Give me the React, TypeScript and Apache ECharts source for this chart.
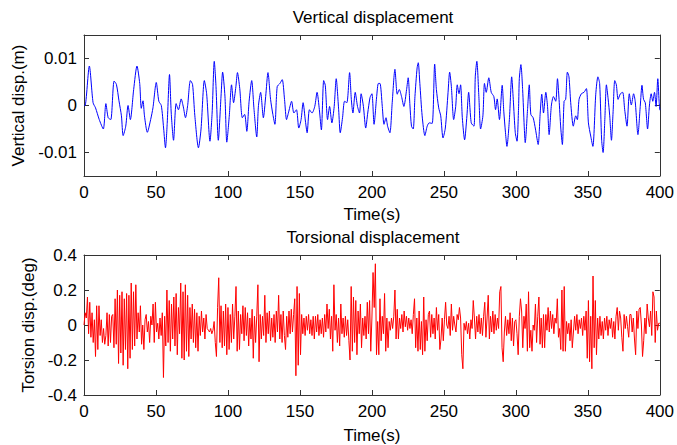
import { useEffect, useRef } from "react";
import * as echarts from "echarts";

// ---------- data ----------
const xTicks = [0, 50, 100, 150, 200, 250, 300, 350, 400];
const vertTicks = [-0.01, 0, 0.01];
const torsTicks = [-0.4, -0.2, 0, 0.2, 0.4];

const vertTime = [
  0, 0.7, 3.7, 6.3, 8, 10.6, 13.4, 15.2, 16.8, 18.6, 20.9, 22.5, 24.3, 26, 27.2, 29, 30.6, 32.2, 34.5, 36.8,
  38.7, 39.8, 41, 42, 44, 46.3, 47.9, 50.2, 52, 53.7, 55.3, 56.6, 57.8, 59.4, 60.6, 62.2, 64, 65.6, 67.5, 69,
  70.5, 72, 73.9, 75.4, 77, 79.5, 81.3, 83.6, 85.2, 87.5, 89, 90.5, 91.7, 93.3, 95.2, 96.3, 97.9, 99.2, 100.9, 102.5,
  103.9, 105.5, 106.6, 108.2, 110, 111.6, 113.1, 114.7, 116.5, 118.1, 120, 121.2, 122.7, 124.6, 126.2, 127.8, 129.6, 131.2, 132.6, 134.2,
  136.1, 137.7, 139.3, 140.7, 142.3, 144.2, 145.8, 147.6, 149.2, 150.8, 152.2, 153.8, 155, 156.6, 158.4, 160.3, 161.9, 163.5, 164.9, 166.5,
  167.6, 169.2, 170.6, 172.2, 173.8, 175.2, 176.9, 178, 179.6, 181, 182.6, 184.5, 185.7, 186.8, 188.4, 190, 191.4, 192.5, 194.1, 195.7,
  197.1, 198.7, 200, 201.5, 203.3, 204.5, 205.6, 207.2, 208.4, 209.8, 210.9, 212.5, 214.1, 216, 217.6, 219, 220.6, 222.2, 224.1, 225.2,
  226.4, 227.5, 228.7, 229.9, 231.4, 232.2, 233.3, 234.9, 236.8, 238.4, 239.8, 241.9, 243.6, 244.8, 246.4, 247.8, 249.4, 251, 252.9, 254,
  255.2, 256.8, 258.2, 259.3, 260.5, 261.6, 262.8, 264.4, 266, 267.2, 269, 270.9, 271.8, 272.9, 274.3, 275.5, 277.1, 278.2, 279.4, 281.2,
  282.9, 284.7, 285.9, 287, 288.6, 290.5, 291.6, 292.8, 293.8, 295.5, 297.1, 298.2, 299.6, 300.8, 301.9, 302.4, 303.5, 304.7, 305.8, 306.5,
  308.1, 309.3, 310.4, 312, 313.6, 315.5, 316.9, 318, 319.2, 320.8, 322, 323.1, 324.7, 326.1, 327.7, 328.9, 330, 331.2, 332.3, 333.5,
  334.6, 335.8, 336.9, 338.1, 339.9, 341.6, 342.7, 343.9, 345.5, 347.3, 349, 350.4, 352, 353.5, 355.5, 357, 358.2, 359.6, 360.6, 361.8,
  362.9, 364.1, 365.2, 366.4, 367.5, 368.7, 369.8, 371, 372.6, 374.2, 375.6, 377.2, 378.8, 380.2, 381.8, 382.9, 384.8, 386.4, 387.6, 388.7,
  389.9, 391.5, 392.8, 394, 395.1, 396.3, 397.4, 398.6, 399.5, 400,
];
const vertDisp = [
  0, 0, 0.0084, 0.0006, -0.0005, -0.003, -0.005, 0.0004, -0.0026, -0.003, 0.0052, 0.0045, 0.001, -0.0022, -0.0064, -0.0044, 0, -0.003, 0.0034, 0.0084,
  0.0047, -0.0006, 0.001, -0.0022, -0.0057, -0.003, -0.0005, 0.0049, 0.0009, 0, -0.0048, -0.009, -0.0038, 0.0066, -0.0016, -0.0074, 0.0004, -0.0009, 0.0014, -0.0003,
  -0.0026, 0, 0.0053, 0.0045, -0.0022, -0.009, -0.005, 0.0053, 0.0025, -0.0076, -0.0016, 0.0094, 0.004, -0.0074, 0.002, 0.0071, 0.002, -0.0078, -0.0023, 0.0044,
  0.0006, 0.004, 0.007, 0.0036, -0.0026, -0.0019, -0.0055, 0.0009, 0.0053, -0.0008, -0.0067, 0, 0.0028, -0.0026, 0.0019, 0.007, 0.0013, -0.0019, -0.004, 0.004,
  0.0047, 0.0055, 0.0013, -0.003, -0.0012, 0.0009, -0.0016, -0.0009, -0.0048, -0.003, 0.0006, -0.0033, -0.0058, -0.0009, -0.0016, -0.0002, 0.0028, -0.0009, -0.0052, 0.0053,
  0.0043, -0.003, -0.0002, -0.0037, -0.0002, 0.0057, -0.0009, -0.0058, -0.0026, 0.0009, 0.0006, 0.007, 0.0013, -0.0016, 0.0028, -0.0002, -0.0016, 0.0025, -0.0002, -0.0048,
  -0.0016, 0.0017, 0.0025, -0.004, 0.0019, 0.0047, 0.0047, -0.0002, -0.004, -0.0026, -0.0044, -0.0058, 0.0006, 0.0077, 0.0024, 0.0034, 0.0019, -0.0002, 0.0034, 0.0059,
  0.0001, -0.0044, -0.005, 0.0019, 0.008, 0.0091, 0.0047, -0.0022, -0.0064, -0.0044, -0.0037, -0.0038, 0.0088, 0.0034, -0.0005, -0.0022, -0.0069, -0.0048, 0.0028, 0.0071,
  0.004, -0.003, -0.0002, 0.0044, 0.0025, 0.0044, -0.0026, -0.0073, -0.0022, 0.0028, -0.0037, -0.0044, 0.0061, 0.0094, 0.0019, -0.005, -0.0022, 0.0047, 0.0028, 0.0059,
  0.0028, 0.0019, -0.0009, 0.0014, -0.003, 0.0043, -0.0012, -0.0058, -0.0087, -0.003, 0.0061, 0.0013, -0.0058, -0.0076, -0.0002, 0.0057, 0.0087, 0.0034, -0.0044, -0.0079,
  -0.0009, 0.0044, -0.0019, -0.0026, -0.005, -0.0083, -0.0016, 0.0024, -0.0016, 0.0028, -0.0002, -0.0062, 0.0001, 0.0019, 0.0009, 0.0057, 0.0013, -0.0048, -0.0083, 0.0009,
  0.0013, 0.0071, 0.0061, 0.0006, -0.0044, -0.0022, -0.003, 0.0013, 0.0025, 0.0028, 0.0036, -0.0037, -0.0065, -0.0087, 0.0024, 0.0061, 0.0047, -0.0074, -0.01, -0.003,
  0.0044, 0.0014, -0.0022, -0.0074, -0.0016, 0.0053, 0.0044, 0.0013, 0.0025, 0.0028, -0.0009, -0.0044, 0.0025, 0.0001, 0.0025, 0.0009, -0.0062, -0.0002, 0.0043, 0.0013,
  0.0006, -0.005, 0.0001, 0.0025, 0.0009, 0.0028, -0.0002, 0.0057, 0.0009, -0.001,
];

// torsion samples, one every 0.8 s from 0 to 400 s
const torsionStep = 0.8;
const torsion = [
  0, 0.07, 0.04, 0.16, -0.05, 0.13, -0.07, 0.07, -0.1, 0.03, -0.18, 0.11, -0.14, 0.11, -0.06, 0.03, -0.1, -0.02, -0.11, -0.06, 0.07, -0.12, 0.06, -0.1, 0.05,
  0.06, -0.13, 0.15, -0.11, 0.2, -0.22, 0.17, -0.16, 0.19, -0.23, 0.15, -0.14, 0.18, -0.25, 0.17, -0.19, 0.24, -0.14, 0.19, -0.12, 0.23, -0.08, 0.07, -0.04, 0.11,
  -0.11, 0, -0.14, 0.03, 0.06, -0.04, 0.02, -0.1, 0.05, 0, 0.12, -0.1, 0.13, -0.04, 0.01, -0.08, 0.04, -0.06, 0.07, -0.3, 0.05, -0.12, 0.2, -0.1, 0.14,
  -0.15, 0.12, -0.08, 0.16, -0.12, 0.18, -0.17, 0.1, -0.05, 0.24, -0.19, 0.19, -0.2, 0.23, -0.15, 0.17, -0.18, 0.1, -0.08, 0.12, -0.1, 0.09, -0.13, 0.07, -0.15,
  0.05, -0.06, 0.08, -0.04, 0.04, -0.08, 0.06, -0.02, -0.03, -0.04, -0.02, -0.05, -0.03, 0.02, -0.1, -0.18, 0.1, 0.27, -0.1, 0.11, -0.13, 0.08, -0.12, 0.12, -0.17,
  0.1, -0.14, 0.06, -0.1, 0.12, -0.08, 0.05, 0.22, -0.15, 0.08, -0.14, 0.06, -0.05, 0.11, -0.09, 0.1, -0.06, 0.07, -0.12, 0.04, -0.08, 0.09, -0.19, 0.05, -0.1,
  0.05, 0.23, -0.21, 0.06, -0.08, 0.05, -0.06, 0.17, -0.1, 0.07, -0.05, 0.08, -0.09, 0.04, -0.07, 0.06, -0.1, 0.08, -0.04, 0.17, -0.08, 0.06, -0.1, 0.08, -0.06,
  -0.14, 0.05, -0.07, 0.08, -0.05, 0.09, -0.04, 0.06, 0.15, -0.29, 0.22, -0.23, 0.18, -0.17, 0.06, -0.05, 0.04, -0.06, 0.05, -0.03, 0.06, -0.05, 0.03, -0.06, 0.05,
  -0.08, 0.05, -0.04, 0.06, -0.06, 0.03, -0.05, 0.04, -0.07, 0.06, -0.04, 0.12, -0.02, 0.09, -0.08, 0.05, -0.15, 0.23, -0.03, 0.06, -0.1, 0.04, -0.12, 0.12, -0.05,
  0.04, -0.07, 0.05, -0.06, 0.03, -0.09, -0.2, 0.22, -0.15, 0.16, -0.1, 0.14, -0.17, 0.08, -0.05, 0.12, -0.13, 0.04, -0.06, 0.05, -0.08, 0.13, -0.05, 0.14, -0.15,
  0.04, 0.3, 0.1, 0.35, -0.17, 0.02, -0.17, 0.15, -0.09, 0.05, -0.05, 0.18, -0.15, 0.04, -0.13, 0.02, -0.03, 0.04, -0.02, 0.05, 0.2, -0.08, 0.09, -0.08, 0.04,
  -0.02, 0.06, -0.04, 0.08, -0.01, 0.05, -0.03, 0.04, -0.02, 0.03, -0.05, 0.06, 0.15, -0.13, 0.04, -0.15, 0.08, -0.14, 0.02, -0.17, 0.16, -0.15, 0.03, -0.09, 0.06,
  0.08, -0.07, 0.06, -0.05, 0.04, -0.08, 0.1, -0.03, 0.06, -0.14, -0.08, 0.04, -0.09, 0.03, 0.13, 0, -0.02, 0.05, -0.06, 0.12, -0.03, 0.05, 0, -0.04, 0.06,
  0.03, 0.1, 0.04, -0.17, -0.25, 0.01, -0.03, 0.02, -0.05, 0.01, -0.08, 0.03, -0.02, 0.14, 0.04, -0.08, 0.05, -0.04, 0.06, -0.05, 0.04, -0.06, 0.05, 0.13, -0.07,
  0.04, 0.17, -0.08, 0.05, -0.04, 0.08, -0.05, 0.06, -0.03, 0.04, -0.02, 0.19, 0.22, -0.13, -0.21, -0.04, 0.05, -0.06, 0.03, -0.05, 0.07, -0.09, 0.04, -0.12, 0.02,
  0.03, -0.05, -0.17, 0.05, 0.15, 0.08, -0.13, 0.05, -0.02, 0.12, -0.15, 0.19, -0.13, -0.03, -0.15, 0, -0.03, 0.12, -0.1, 0.05, 0.16, -0.11, 0.04, -0.13, 0.06,
  -0.13, 0.06, -0.03, 0.1, -0.04, 0.08, -0.02, 0.06, -0.05, 0.04, 0.01, 0.15, -0.07, -0.02, -0.14, 0.2, -0.15, 0.22, -0.15, 0.02, -0.05, 0.01, -0.09, 0.03, -0.13,
  -0.04, 0.05, -0.03, 0.06, -0.05, 0.03, -0.02, 0.04, -0.06, 0.05, -0.03, 0.08, -0.19, 0.14, -0.21, 0.05, -0.25, 0.28, -0.13, 0.14, -0.17, 0.04, -0.08, 0.05, -0.06,
  0.02, -0.08, 0.04, -0.03, 0.05, -0.06, 0.03, -0.02, 0.04, -0.07, 0.02, -0.08, 0.05, 0.1, -0.03, 0.08, 0.04, -0.07, -0.15, 0.06, -0.02, 0.05, -0.01, -0.07, 0.06,
  0.06, -0.04, 0.04, -0.08, -0.17, 0.08, -0.02, 0.09, 0.1, 0, -0.18, -0.09, 0.04, -0.05, 0.12, 0.04, -0.01, 0.08, -0.06, 0.19, 0.16, -0.1, 0.08, -0.03, 0.01,
  0.01,
];

// ---------- chart ----------
const FONT = "'Liberation Sans', Arial, Helvetica, sans-serif";
const AXIS = "#333";
const TXT = "#000";
const FS = 17;

const fmt = (v: number) => String(Math.round(v * 1000) / 1000);

export default function App() {
  const ref = useRef<HTMLDivElement>(null);
  useEffect(() => {
    const chart = echarts.init(ref.current!, null, { renderer: "svg" });

    const xAxisPair = (g: number, gap: number) => [
      {
        type: "value", gridIndex: g, min: 0, max: 400, interval: 50, position: "bottom",
        axisLine: { show: true, onZero: false, lineStyle: { color: AXIS, width: 1 } },
        axisTick: { show: true, inside: true, length: 5, lineStyle: { color: AXIS } },
        axisLabel: { show: true, color: TXT, fontSize: FS, fontFamily: FONT, margin: 8, customValues: xTicks },
        splitLine: { show: false },
        name: "Time(s)", nameLocation: "middle", nameGap: gap,
        nameTextStyle: { color: TXT, fontSize: FS, fontFamily: FONT },
      },
      {
        type: "value", gridIndex: g, min: 0, max: 400, interval: 50, position: "top",
        axisLine: { show: true, onZero: false, lineStyle: { color: AXIS, width: 1 } },
        axisTick: { show: true, inside: true, length: 5, lineStyle: { color: AXIS } },
        axisLabel: { show: false },
        splitLine: { show: false },
      },
    ];

    const yAxisPair = (g: number, min: number, max: number, ticks: number[], name: string, gap: number) => [
      {
        type: "value", gridIndex: g, min, max, position: "left",
        axisLine: { show: true, onZero: false, lineStyle: { color: AXIS, width: 1 } },
        axisTick: { show: true, inside: true, length: 5, lineStyle: { color: AXIS }, customValues: ticks },
        axisLabel: { show: true, color: TXT, fontSize: FS, fontFamily: FONT, margin: 7, customValues: ticks, formatter: fmt },
        splitLine: { show: false },
        name, nameLocation: "middle", nameGap: gap,
        nameTextStyle: { color: TXT, fontSize: FS, fontFamily: FONT },
      },
      {
        type: "value", gridIndex: g, min, max, position: "right",
        axisLine: { show: true, onZero: false, lineStyle: { color: AXIS, width: 1 } },
        axisTick: { show: true, inside: true, length: 5, lineStyle: { color: AXIS }, customValues: ticks },
        axisLabel: { show: false },
        splitLine: { show: false },
      },
    ];

    chart.setOption({
      animation: false,
      backgroundColor: "#fff",
      grid: [
        { left: 84, top: 35, width: 579, height: 141 },
        { left: 84, top: 255, width: 579, height: 141 },
      ],
      xAxis: [...xAxisPair(0, 30), ...xAxisPair(1, 32)],
      yAxis: [
        ...yAxisPair(0, -0.015, 0.015, vertTicks, "Vertical disp.(m)", 53),
        ...yAxisPair(1, -0.4, 0.4, torsTicks, "Torsion disp.(deg)", 44),
      ],
      graphic: [
        {
          type: "text", x: 373, y: 17,
          style: { text: "Vertical displacement", fill: TXT, font: `${FS}px ${FONT}`, textAlign: "center", textVerticalAlign: "middle" },
        },
        {
          type: "text", x: 373, y: 237,
          style: { text: "Torsional displacement", fill: TXT, font: `${FS}px ${FONT}`, textAlign: "center", textVerticalAlign: "middle" },
        },
      ],
      series: [
        {
          type: "line", xAxisIndex: 0, yAxisIndex: 0, showSymbol: false, symbol: "none", smooth: 0.25,
          lineStyle: { color: "#0000ff", width: 1 }, itemStyle: { color: "#0000ff" },
          data: vertTime.map((t, i) => [t, vertDisp[i]]),
        },
        {
          type: "line", xAxisIndex: 2, yAxisIndex: 2, showSymbol: false, symbol: "none",
          lineStyle: { color: "#ff0000", width: 1 }, itemStyle: { color: "#ff0000" },
          data: torsion.map((v, i) => [Math.round(i * torsionStep * 10) / 10, v]),
        },
      ],
    });
    return () => chart.dispose();
  }, []);
  return (
    <div
      ref={ref}
      style={{ position: "fixed", left: 0, top: 0, width: 677, height: 445, background: "#fff" }}
    />
  );
}
